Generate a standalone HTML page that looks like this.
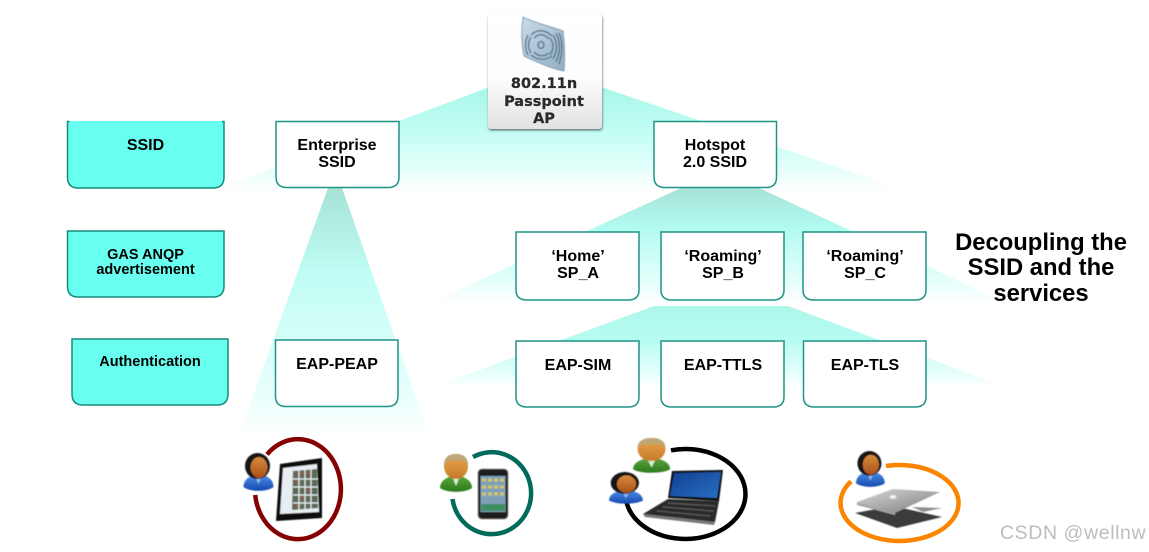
<!DOCTYPE html>
<html><head><meta charset="utf-8">
<style>
html,body{margin:0;padding:0;background:#fff;width:1149px;height:552px;overflow:hidden}
svg{display:block}
.b{font-family:"Liberation Sans",sans-serif;font-weight:700;fill:#000;text-anchor:middle;font-size:16px}
.s{font-size:14.5px}
.ap{font-family:"DejaVu Sans",sans-serif;font-weight:700;fill:#2a2a2a;stroke:#2a2a2a;stroke-width:.25;text-anchor:middle;font-size:14.5px}
.box{fill:#fff;stroke:#1f9484;stroke-width:1.5}
.cy{fill:#69fff0;stroke:#148c7c;stroke-width:1.5}
</style></head><body>
<svg width="1149" height="552" viewBox="0 0 1149 552" xmlns="http://www.w3.org/2000/svg">
<defs>
<linearGradient id="f1" x1="0" y1="0" x2="0" y2="1"><stop offset="0" stop-color="#aaf6e9"/><stop offset=".4" stop-color="#bffdf3"/><stop offset=".8" stop-color="#e6fffb"/><stop offset="1" stop-color="#fff"/></linearGradient>
<linearGradient id="f2" x1="0" y1="0" x2="0" y2="1"><stop offset="0" stop-color="#a6e3d7"/><stop offset=".35" stop-color="#b2fbf0"/><stop offset=".8" stop-color="#e4fffb"/><stop offset="1" stop-color="#fff"/></linearGradient>
<linearGradient id="f4" x1="0" y1="0" x2="0" y2="1"><stop offset="0" stop-color="#aef6ea"/><stop offset=".4" stop-color="#b6fcf1"/><stop offset=".8" stop-color="#e4fffb"/><stop offset="1" stop-color="#fff"/></linearGradient>
<linearGradient id="f3" x1="0" y1="0" x2="0" y2="1"><stop offset="0" stop-color="#a6e2d6"/><stop offset=".35" stop-color="#bffdf4"/><stop offset=".85" stop-color="#e8fffc"/><stop offset="1" stop-color="#fcfffe"/></linearGradient>
<linearGradient id="apg" x1="0" y1="0" x2="0" y2="1"><stop offset="0" stop-color="#fff"/><stop offset=".55" stop-color="#fdfdfd"/><stop offset="1" stop-color="#e2e2e2"/></linearGradient>
<linearGradient id="apd" x1="0" y1="0" x2="1" y2="1"><stop offset="0" stop-color="#c9dbe8"/><stop offset="1" stop-color="#93aec4"/></linearGradient>
<linearGradient id="sk" x1="0" y1="0" x2="0" y2="1"><stop offset="0" stop-color="#e8a84c"/><stop offset="1" stop-color="#c97a2a"/></linearGradient>
<linearGradient id="sk2" x1="0" y1="0" x2="0" y2="1"><stop offset="0" stop-color="#d98b3a"/><stop offset="1" stop-color="#a8501c"/></linearGradient>
<linearGradient id="blu" x1="0" y1="0" x2="0" y2="1"><stop offset="0" stop-color="#4d8fe6"/><stop offset="1" stop-color="#1648b0"/></linearGradient>
<linearGradient id="grn" x1="0" y1="0" x2="0" y2="1"><stop offset="0" stop-color="#5da53c"/><stop offset="1" stop-color="#2c7a1e"/></linearGradient>
<linearGradient id="scr" x1="0" y1="0" x2="1" y2="1"><stop offset="0" stop-color="#123f90"/><stop offset="1" stop-color="#2a70c4"/></linearGradient>
<linearGradient id="mac" x1="0" y1="0" x2="1" y2="1"><stop offset="0" stop-color="#d8d8d8"/><stop offset="1" stop-color="#7d7d7d"/></linearGradient>
<filter id="sh" x="-10%" y="-10%" width="120%" height="120%"><feDropShadow dx=".5" dy="1.5" stdDeviation="1" flood-color="#555" flood-opacity=".8"/></filter>
<filter id="bl"><feGaussianBlur stdDeviation=".5"/></filter>
<g id="pb">
<path d="M0 34 C0 27 5 24 10 22 L20 22 C25 24 30 27 30 34 C24 39 6 39 0 34Z" fill="url(#blu)"/>
<path d="M11 22 L15 31 L19 22Z" fill="#8fbcf0"/>
<ellipse cx="14" cy="13" rx="12.500" ry="13" fill="#141414"/>
<ellipse cx="15.500" cy="14.500" rx="8.500" ry="10.500" fill="url(#sk2)"/>
</g>
<g id="pg">
<path d="M0 34 C0 27 6 24 11 22 L21 22 C26 24 32 27 32 34 C26 39 6 39 0 34Z" fill="url(#grn)"/>
<path d="M12 22 L16 32 L20 22Z" fill="#dcefd2"/>
<ellipse cx="16" cy="12.500" rx="12" ry="12.500" fill="url(#sk)"/>
<path d="M4 12 C3.500 3 9 0 16 0 C23 0 28.500 3 28 12 C26 7 22 6 16 7 C10 6 6 7 4 12Z" fill="#bfa676"/>
</g>
</defs>

<rect width="1149" height="552" fill="#fff"/>

<!-- fans -->
<polygon points="487,88 604,88 905,190 215,190" fill="url(#f1)"/>
<polygon points="328,188 342,188 428,432 240,432" fill="url(#f3)"/>
<polygon points="681,188 759,188 1006,303 430,303" fill="url(#f2)"/>
<polygon points="654,306 788,306 1008,388 430,388" fill="url(#f4)"/>

<!-- left cyan boxes -->
<path class="cy" d="M67.500 121 V177 Q67.500 188 78 188 H213 Q224 188 224 177 V121"/>
<path d="M67 121.500h2.500M222 121.500h2.500" stroke="#148c7c" stroke-width="1.500"/>
<path class="cy" d="M67.500 231 V286 Q67.500 297 78 297 H213 Q224 297 224 286 V231 Z"/>
<path class="cy" d="M72 339 V394 Q72 405 83 405 H217 Q228 405 228 394 V339 Z"/>

<!-- white boxes -->
<path class="box" d="M276 121.500 H399 V177 Q399 187.500 388 187.500 H287 Q276 187.500 276 177 Z"/>
<path class="box" d="M654 121.500 H776.500 V177 Q776.500 187.500 766 187.500 H665 Q654 187.500 654 177 Z"/>
<path class="box" d="M275.500 340 H398 V396 Q398 406.500 387 406.500 H286 Q275.500 406.500 275.500 396 Z"/>
<path class="box" d="M516 232 H639 V290 Q639 300 628 300 H527 Q516 300 516 290 Z"/>
<path class="box" d="M661 232 H784 V290 Q784 300 773 300 H672 Q661 300 661 290 Z"/>
<path class="box" d="M803 232 H926 V290 Q926 300 915 300 H814 Q803 300 803 290 Z"/>
<path class="box" d="M516 341 H639 V397 Q639 407 628 407 H527 Q516 407 516 397 Z"/>
<path class="box" d="M661 341 H784 V397 Q784 407 773 407 H672 Q661 407 661 397 Z"/>
<path class="box" d="M803.500 341 H926 V397 Q926 407 915 407 H814.500 Q803.500 407 803.500 397 Z"/>

<!-- labels -->
<text class="b" x="145.500" y="150">SSID</text>
<text class="b s" x="145.500" y="259">GAS ANQP</text>
<text class="b s" x="145.500" y="274">advertisement</text>
<text class="b s" x="150" y="366">Authentication</text>
<text class="b" x="337" y="150">Enterprise</text>
<text class="b" x="337" y="167">SSID</text>
<text class="b" x="715" y="150">Hotspot</text>
<text class="b" x="715" y="167">2.0 SSID</text>
<text class="b" x="578" y="261">‘Home’</text>
<text class="b" x="578" y="278">SP_A</text>
<text class="b" x="723" y="261">‘Roaming’</text>
<text class="b" x="723" y="278">SP_B</text>
<text class="b" x="865" y="261">‘Roaming’</text>
<text class="b" x="865" y="278">SP_C</text>
<text class="b" x="337" y="369">EAP-PEAP</text>
<text class="b" x="578" y="370">EAP-SIM</text>
<text class="b" x="723" y="370">EAP-TTLS</text>
<text class="b" x="865" y="370">EAP-TLS</text>
<text class="b" style="font-size:23.8px" x="1041" y="250">Decoupling the</text>
<text class="b" style="font-size:23.8px" x="1041" y="275">SSID and the</text>
<text class="b" style="font-size:23.8px" x="1041" y="301">services</text>

<!-- AP -->
<rect x="488" y="14" width="114" height="115" rx="3" fill="url(#apg)" filter="url(#sh)"/>
<g filter="url(#bl)">
<path d="M523 17 C532 22 552 27 563 31 C565 45 565 58 564 71 C552 69 532 60 524 56 C521 42 521 30 523 17Z" fill="url(#apd)" stroke="#6f8ea6" stroke-width=".8"/>
<g fill="none" stroke="#4a6e85" stroke-width="1.300">
<ellipse cx="541" cy="45" rx="3" ry="3.500"/>
<path d="M534 38 Q541 31 549 39M531 35 Q541 26 552 36M534 52 Q541 59 549 53M531 55 Q541 63 552 56"/>
<path d="M550 38 Q556 46 550 55M553 35 Q560 46 553 59M556 33 Q563 47 556 62M559 33 Q565 47 559 64"/>
<path d="M531 37 Q526 45 531 53M528 35 Q523 45 528 55"/>
</g>
</g>
<text class="ap" x="544" y="88">802.11n</text>
<text class="ap" x="544" y="106">Passpoint</text>
<text class="ap" x="544" y="123">AP</text>

<!-- Ring 1: tablet -->
<path d="M267 454.400 A43 50 0 1 1 255.200 495" fill="none" stroke="#850000" stroke-width="4.500"/>
<g filter="url(#bl)">
<use href="#pb" transform="translate(243.500,453)"/>
<polygon points="280,464 322,458 322,518 276,521" fill="#0c0c0c"/>
<polygon points="283,468 317,464 319,512 280,514" fill="#e8edf2"/>
<polygon points="293,471 317,469 318,508 292,510" fill="#5c6a55"/>
<path d="M299 470V510M305 469V510M311 469V509M293 479H318M293 487H318M293 495H318M293 503H318" stroke="#e8edf2" stroke-width="1.200"/>
<path d="M296 474h1M302 473h2M308 473h2M296 482h2M308 490h2M302 498h2M296 506h2" stroke="#b04a4a" stroke-width="3"/>
</g>

<!-- Ring 2: phone -->
<path d="M473 457 A39.500 41 0 1 1 452.500 499" fill="none" stroke="#006b5b" stroke-width="4.500"/>
<g filter="url(#bl)">
<use href="#pg" transform="translate(440,454)"/>
<rect x="478" y="469" width="30" height="50" rx="4" fill="#1b1b1b" stroke="#888" stroke-width=".8"/>
<rect x="480.500" y="476" width="25" height="36" fill="#7ea0b8"/>
<path d="M482 480h22M482 487h22M482 494h22" stroke="#d5c560" stroke-width="3" stroke-dasharray="4 2"/>
<rect x="481" y="504" width="24" height="7" fill="#3d8f62"/>
</g>

<!-- Ring 3: laptop -->
<path d="M671 450.300 A60 45 0 1 1 626.500 502.200" fill="none" stroke="#000" stroke-width="4.500"/>
<g filter="url(#bl)">
<polygon points="672,471 723,470 719,501 668,498" fill="#0e0e0e"/>
<polygon points="674,473 721,472 717,498 670,496" fill="url(#scr)"/>
<polygon points="668,499 719,501 715,522 643,514" fill="#2c2c2c"/>
<polygon points="643,514 715,522 714,525 645,517" fill="#777"/>
<path d="M668 503L715 506M663 507L713 511M657 511L710 516" stroke="#777" stroke-width="1" stroke-dasharray="2 1"/>
<use href="#pg" transform="translate(633,438) scale(1.160,.92)"/>
<use href="#pb" transform="translate(609,472) scale(1.130,.84)"/>
</g>

<!-- Ring 4: macbook -->
<path d="M886 466 A59 38 0 1 1 851 481.400" fill="none" stroke="#fb8400" stroke-width="4.500"/>
<g filter="url(#bl)">
<use href="#pb" transform="translate(856,451) scale(.96,.95)"/>
<polygon points="912,507 942,508 923,512" fill="#8f8f8f"/>
<polygon points="855,513 893,506 942,517 897,528" fill="#3a3a3a"/>
<polygon points="857,502 893,489 940,492 895,513" fill="url(#mac)"/>
<polygon points="857,502 895,513 895,515 857,505" fill="#a5a5a5"/>
<ellipse cx="893" cy="497" rx="3.500" ry="2" fill="#efefef"/>
</g>

<!-- watermark -->
<text x="1000" y="539" font-family="'Liberation Sans',sans-serif" font-size="19.500" fill="#bdbdbd" letter-spacing=".6">CSDN @wellnw</text>
</svg>
</body></html>
